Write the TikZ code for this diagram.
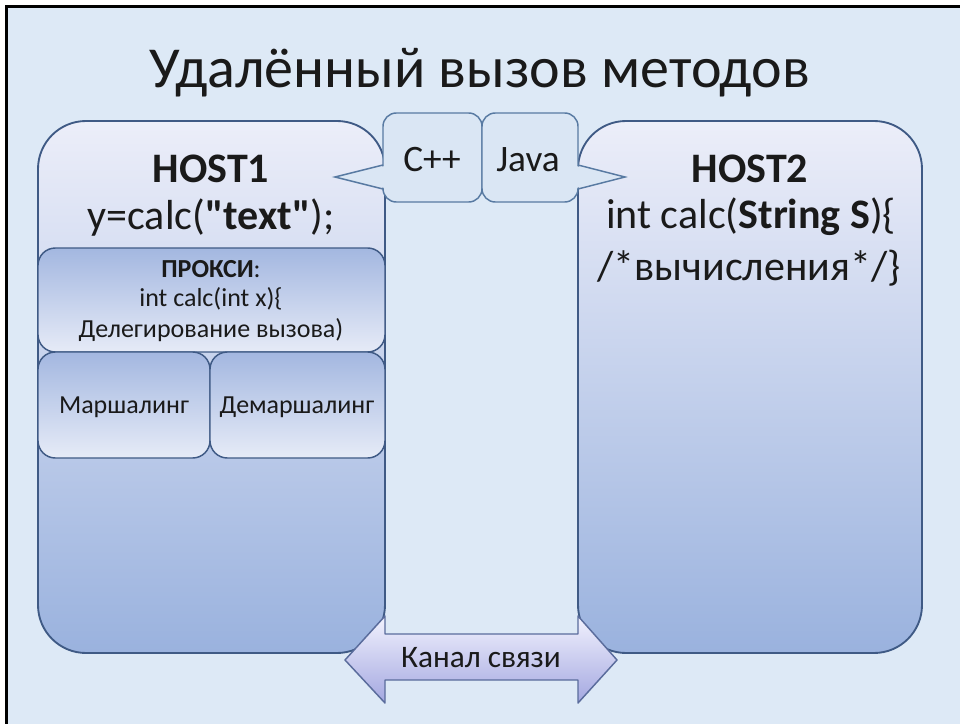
\documentclass[tikz,border=0pt]{standalone}
\usepackage{fontspec}
\setmainfont{Carlito}
\definecolor{slidebg}{HTML}{DDE9F6}
\definecolor{hostline}{HTML}{3F5A85}
\definecolor{hosttop}{HTML}{ECEEF9}
\definecolor{hostbot}{HTML}{9AB2DE}
\definecolor{parttop}{HTML}{A3B7E0}
\definecolor{partbot}{HTML}{E6EBF7}
\definecolor{langfill}{HTML}{DAE6F4}
\definecolor{langline}{HTML}{587AA2}
\definecolor{arrtop}{HTML}{F2F2FE}
\definecolor{arrbot}{HTML}{A3A7E0}
\definecolor{arrline}{HTML}{5A6C9C}
\definecolor{ink}{HTML}{1A1A1A}
% straight double quote, taken as a glyph so the TeX ligature mapping leaves it alone
\newcommand{\dq}{\XeTeXglyph\XeTeXcharglyph"22\relax}
\begin{document}
\begin{tikzpicture}[x=0.75pt,y=-0.75pt,
  hostbox/.style={rectangle, inner sep=0pt, outer sep=0pt, rounded corners=36pt,
    draw=hostline, line width=1.4pt, top color=hosttop, bottom color=hostbot},
  partbox/.style={rectangle, inner sep=0pt, outer sep=0pt, rounded corners=13pt,
    draw=hostline, line width=1.1pt, top color=parttop, bottom color=partbot},
  langbox/.style={rectangle, inner sep=0pt, outer sep=0pt, rounded corners=10pt,
    draw=langline, line width=1.1pt, fill=langfill},
  txt/.style={anchor=base, inner sep=0pt, text=ink},
  bigtxt/.style={txt, font=\fontsize{31.5}{36}\selectfont},
  smalltxt/.style={txt, font=\fontsize{19.5}{23}\selectfont}]
\useasboundingbox (0,0) rectangle (960,724);
% slide background with the dark frame along top and left
\fill[white] (0,0) rectangle (960,724);
\fill[slidebg] (6,6) rectangle (960,724);
\draw[black, line width=2.6pt] (6.5,724) -- (6.5,6.5) -- (960,6.5);

% title
\node[txt, font=\fontsize{43.5}{50}\selectfont] (title) at (480,88) {Удалённый вызов методов};

% hosts
\node[hostbox, minimum width=260.25pt, minimum height=399pt] (host1) at (211.5,387) {};
\node[hostbox, minimum width=258pt, minimum height=399pt] (host2) at (750,387) {};

% proxy and (de)marshalling parts inside HOST1
\node[partbox, minimum width=260.25pt, minimum height=78pt] (proxy) at (211.5,300) {};
\node[partbox, minimum width=129pt, minimum height=79.5pt] (marsh) at (124,405) {};
\node[partbox, minimum width=131.25pt, minimum height=79.5pt] (demarsh) at (297.5,405) {};

% communication channel arrow
\coordinate (chL) at (345,660);
\coordinate (chR) at (617,660);
\draw[arrline, line width=1.1pt, top color=arrtop, bottom color=arrbot, line join=round]
  (chL) -- (385,616) -- (385,634) -- (578,634) -- (578,616) -- (chR)
  -- (578,703) -- (578,680) -- (385,680) -- (385,703) -- cycle;
\node[txt, font=\fontsize{23.5}{27}\selectfont] (chan) at (481,667) {Канал связи};

% language callouts
\node[langbox, minimum width=74.25pt, minimum height=66.75pt] (cpp) at (432.5,157.5) {};
\node[langbox, minimum width=72pt, minimum height=66.75pt] (java) at (530,157.5) {};
\coordinate (cpptip) at (335,177);
\coordinate (javatip) at (625,177);
\fill[langfill] (385,166) -- (cpptip) -- (385,188) -- (389,188) -- (389,166) -- cycle;
\draw[langline, line width=1.1pt, line join=miter] (cpp.west |- 0,165) -- (cpptip) -- (cpp.west |- 0,189);
\fill[langfill] (576,166) -- (javatip) -- (576,188) -- (572,188) -- (572,166) -- cycle;
\draw[langline, line width=1.1pt, line join=miter] (java.east |- 0,165) -- (javatip) -- (java.east |- 0,189);
\node[txt, font=\fontsize{28}{32}\selectfont] (cpptext) at (432,171) {C++};
\node[txt, font=\fontsize{28}{32}\selectfont] (javatext) at (528,171) {Java};

% HOST1 text
\node[bigtxt, font=\fontsize{31.5}{36}\selectfont\bfseries] (h1name) at (211,182) {HOST1};
\node[bigtxt] (h1call) at (211,229) {y=calc(\textbf{\dq text\dq});};

% HOST2 text
\node[bigtxt, font=\fontsize{31.5}{36}\selectfont\bfseries] (h2name) at (750,182) {HOST2};
\node[bigtxt] (h2sig) at (751,228) {int calc(\textbf{String S})\{};
\node[bigtxt] (h2body) at (749,280) {/*вычисления*/\}};

% proxy text
\node[smalltxt] (ptitle) at (211,277) {\textbf{ПРОКСИ}:};
\node[smalltxt] (psig) at (211,306) {int calc(int x)\{};
\node[smalltxt] (pdel) at (211,337) {Делегирование вызова)};

% marshalling text
\node[smalltxt] (mtext) at (124,413) {Маршалинг};
\node[smalltxt] (dtext) at (297,413) {Демаршалинг};
\end{tikzpicture}
\end{document}
